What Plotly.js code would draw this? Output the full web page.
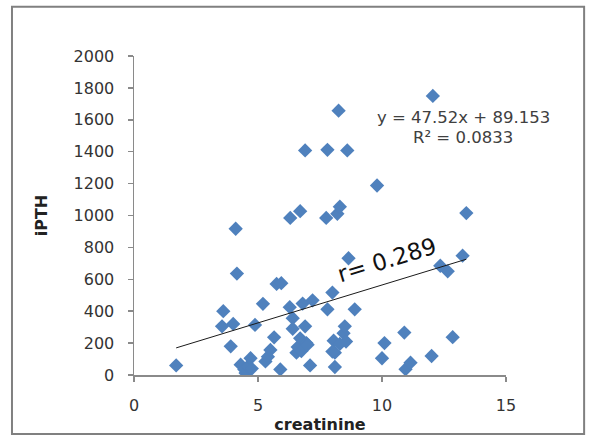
<!DOCTYPE html>
<html><head><meta charset="utf-8">
<script src="https://cdn.plot.ly/plotly-3.0.1.min.js"></script>
<style>body{margin:0;background:#fff}#chart{width:592px;height:439px}</style>
</head><body><div id="chart"></div>
<script>
const creatinine = [1.7, 3.6, 3.55, 4.0, 3.9, 4.1, 4.15, 4.3, 4.45, 4.5, 4.6, 4.7, 4.75, 4.88,
  5.2, 5.3, 5.4, 5.5, 5.65, 5.75, 5.94, 5.9, 6.28, 6.3, 6.4, 6.4, 6.55, 6.6, 6.7, 6.7,
  6.8, 6.9, 6.95, 6.75, 6.9, 7.1, 7.2, 7.75, 7.8, 7.8, 8.0, 8.05, 8.1, 8.1, 8.2, 8.25,
  8.3, 8.45, 8.5, 8.55, 8.6, 8.65, 8.9, 9.8, 10.0, 10.1, 10.9, 10.95, 11.15, 12.0, 12.05,
  12.35, 12.65, 12.85, 13.25, 13.4, 7.0, 8.3, 8.0];
const iPTH = [60, 400, 305, 320, 180, 917, 636, 65, 35, 12, 55, 105, 40, 314,
  446, 85, 115, 157, 236, 571, 576, 35, 425, 985, 356, 290, 140, 175, 230, 1027,
  448, 305, 200, 150, 1408, 60, 468, 985, 1412, 412, 517, 215, 50, 140, 1011, 1657,
  1055, 262, 305, 210, 1408, 732, 412, 1188, 105, 200, 266, 36, 77, 119, 1750,
  685, 650, 237, 748, 1015, 190, 195, 147];
const trendSlope = 47.52;
const trendIntercept = 89.153;
const equationText = 'y = 47.52x + 89.153';
const r2Text = 'R² = 0.0833';
const rText = 'r= 0.289';
const xTickVals = [0, 5, 10, 15];
const yTickVals = [0, 200, 400, 600, 800, 1000, 1200, 1400, 1600, 1800, 2000];

const xMin = Math.min(...creatinine), xMax = Math.max(...creatinine);
const trendX = [xMin, xMax];
const trendY = trendX.map(v => trendSlope * v + trendIntercept);

const font = 'DejaVu Sans, sans-serif';
const traces = [
  {x: creatinine, y: iPTH, type: 'scatter', mode: 'markers',
   marker: {symbol: 'diamond', size: 11, color: '#4F81BD'}, hoverinfo: 'x+y'},
  {x: trendX, y: trendY, type: 'scatter', mode: 'lines',
   line: {color: '#1a1a1a', width: 1}}
];
const layout = {
  width: 592, height: 439,
  margin: {l: 134, r: 86, t: 56, b: 64},
  paper_bgcolor: '#fff', plot_bgcolor: '#fff',
  showlegend: false,
  font: {family: font, size: 16, color: '#333'},
  xaxis: {range: [0, 15], tickvals: xTickVals, showgrid: false, zeroline: false,
    showline: true, linecolor: '#8a8a8a', linewidth: 1.5, ticks: 'outside', ticklen: 5,
    tickcolor: '#8a8a8a', tickwidth: 1.5, ticklabelstandoff: 10,
    tickfont: {family: font, size: 16, color: '#333'},
    title: {text: 'creatinine', font: {family: font, size: 16, color: '#222', weight: 'bold'}, standoff: 5}},
  yaxis: {range: [0, 2000], tickvals: yTickVals, showgrid: false, zeroline: false,
    showline: true, linecolor: '#8a8a8a', linewidth: 1.5, ticks: 'outside', ticklen: 5,
    tickcolor: '#8a8a8a', tickwidth: 1.5, ticklabelstandoff: 10,
    tickfont: {family: font, size: 16, color: '#333'},
    title: {text: 'iPTH', font: {family: font, size: 16, color: '#222', weight: 'bold'}, standoff: 22}},
  annotations: [
    {x: 13.3, y: 1617, xref: 'x', yref: 'y', text: equationText, showarrow: false,
     font: {family: font, size: 16.5, color: '#404040'}},
    {x: 13.25, y: 1488, xref: 'x', yref: 'y', text: r2Text, showarrow: false,
     font: {family: font, size: 16.5, color: '#404040'}},
    {x: 10.2, y: 722, xref: 'x', yref: 'y', text: rText, showarrow: false, textangle: -17,
     font: {family: font, size: 23, color: '#111'}}
  ],
  shapes: [
    {type: 'rect', xref: 'paper', yref: 'paper', x0: -0.328, x1: 1.21, y0: -0.185, y1: 1.154,
     line: {color: '#808080', width: 2}, fillcolor: 'rgba(0,0,0,0)', layer: 'below'}
  ]
};
Plotly.newPlot('chart', traces, layout, {staticPlot: true, displayModeBar: false});
</script></body></html>
